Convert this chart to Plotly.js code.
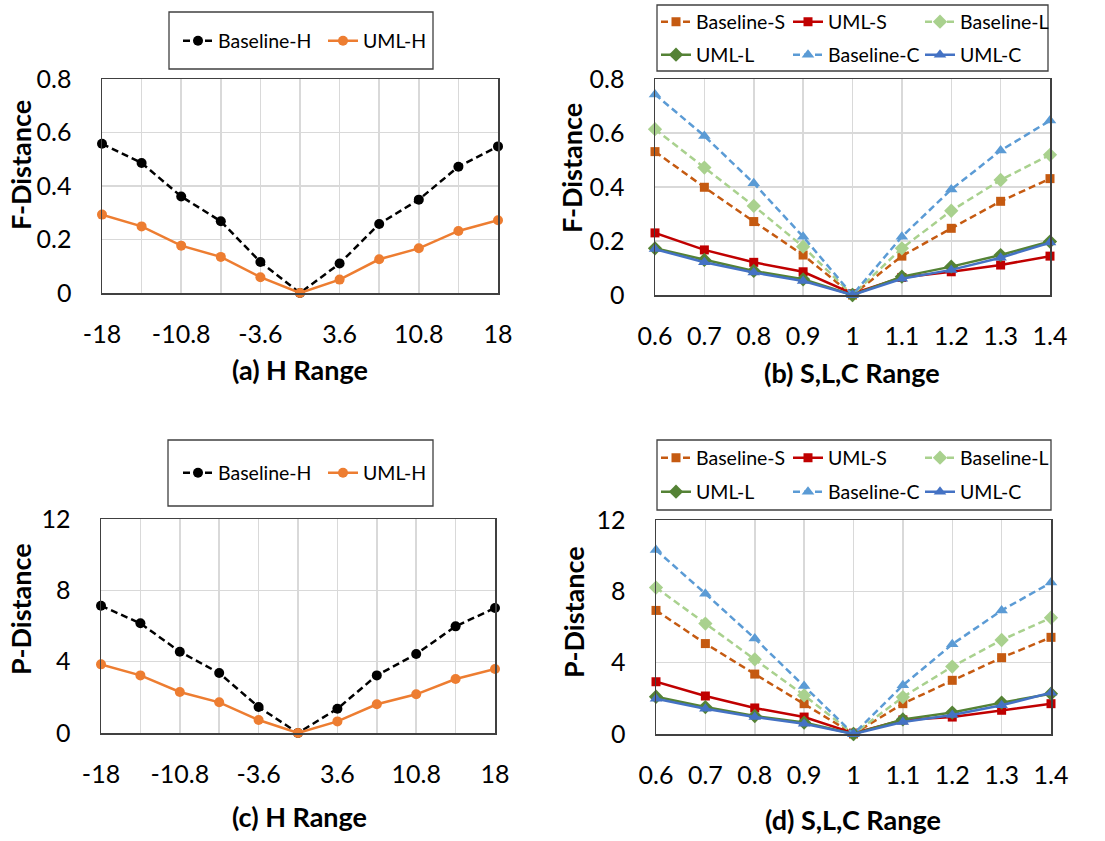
<!DOCTYPE html>
<html>
<head>
<meta charset="utf-8">
<script src="https://cdn.plot.ly/plotly-3.0.1.min.js"></script>
<style>html,body{margin:0;padding:0;background:#fff;}#chart{width:1105px;height:841px;}</style>
</head>
<body>
<div id="chart"></div>
<script>
// ---- categories / tick labels ----
const hCats = ['-18','-14.4','-10.8','-7.2','-3.6','0','3.6','7.2','10.8','14.4','18'];
const slcCats = ['0.6','0.7','0.8','0.9','1','1.1','1.2','1.3','1.4'];
const fTicks = [0, 0.2, 0.4, 0.6, 0.8];
const pTicks = [0, 4, 8, 12];

// ---- (a) F-Distance vs H ----
const fBaseH = [0.558,0.486,0.361,0.268,0.116,0,0.110,0.258,0.349,0.472,0.548];
const fUmlH  = [0.293,0.249,0.177,0.135,0.059,0,0.050,0.126,0.167,0.232,0.272];
// ---- (c) P-Distance vs H ----
const pBaseH = [7.14,6.15,4.56,3.36,1.46,0,1.36,3.23,4.43,5.98,7.01];
const pUmlH  = [3.85,3.23,2.30,1.72,0.73,0,0.65,1.61,2.17,3.03,3.59];
// ---- (b) F-Distance vs S,L,C ----
const fBaseS = [0.531,0.399,0.272,0.148,0,0.144,0.247,0.347,0.431];
const fUmlS  = [0.230,0.167,0.121,0.086,0.005,0.065,0.086,0.111,0.144];
const fBaseL = [0.614,0.472,0.330,0.179,0,0.173,0.312,0.426,0.519];
const fUmlL  = [0.173,0.130,0.089,0.058,0,0.068,0.105,0.148,0.198];
const fBaseC = [0.743,0.589,0.414,0.216,0,0.216,0.391,0.535,0.646];
const fUmlC  = [0.170,0.121,0.083,0.052,0,0.060,0.093,0.138,0.194];
// ---- (d) P-Distance vs S,L,C ----
const pBaseS = [6.93,5.07,3.36,1.70,0,1.70,3.01,4.28,5.42];
const pUmlS  = [2.93,2.13,1.46,0.95,0.05,0.79,0.95,1.33,1.70];
const pBaseL = [8.21,6.19,4.19,2.17,0,2.07,3.78,5.27,6.52];
const pUmlL  = [2.09,1.51,1.01,0.64,0,0.82,1.20,1.76,2.26];
const pBaseC = [10.32,7.87,5.36,2.69,0,2.73,5.03,6.93,8.49];
const pUmlC  = [1.98,1.42,0.95,0.58,0,0.67,1.07,1.61,2.32];

const W = 1105, H = 841;
const FONT = 'Lato, "Open Sans", sans-serif';
const px = v => v / W;
const py = v => 1 - v / H;

function line(name, x, y, color, dash, symbol, size, xa, ya, legend) {
  return {
    type: 'scatter', mode: 'lines+markers', name: name, x: x, y: y,
    xaxis: xa, yaxis: ya, legend: legend, cliponaxis: false,
    line: {color: color, width: 2.5, dash: dash ? '7px,4px' : 'solid'},
    marker: {color: color, symbol: symbol, size: size}
  };
}

const cS = '#C55A11', cSu = '#C00000', cL = '#A9D18E', cLu = '#548235', cC = '#5B9BD5', cCu = '#4472C4';

const traces = [
  line('Baseline-H', hCats, fBaseH, '#000000', true, 'circle', 10, 'x', 'y', 'legend'),
  line('UML-H', hCats, fUmlH, '#ED7D31', false, 'circle', 10, 'x', 'y', 'legend'),

  line('Baseline-S', slcCats, fBaseS, cS, true, 'square', 9, 'x2', 'y2', 'legend2'),
  line('UML-S', slcCats, fUmlS, cSu, false, 'square', 9, 'x2', 'y2', 'legend2'),
  line('Baseline-L', slcCats, fBaseL, cL, true, 'diamond', 11, 'x2', 'y2', 'legend2'),
  line('UML-L', slcCats, fUmlL, cLu, false, 'diamond', 11, 'x2', 'y2', 'legend3'),
  line('Baseline-C', slcCats, fBaseC, cC, true, 'triangle-up', 11, 'x2', 'y2', 'legend3'),
  line('UML-C', slcCats, fUmlC, cCu, false, 'triangle-up', 11, 'x2', 'y2', 'legend3'),

  line('Baseline-H', hCats, pBaseH, '#000000', true, 'circle', 10, 'x3', 'y3', 'legend4'),
  line('UML-H', hCats, pUmlH, '#ED7D31', false, 'circle', 10, 'x3', 'y3', 'legend4'),

  line('Baseline-S', slcCats, pBaseS, cS, true, 'square', 9, 'x4', 'y4', 'legend5'),
  line('UML-S', slcCats, pUmlS, cSu, false, 'square', 9, 'x4', 'y4', 'legend5'),
  line('Baseline-L', slcCats, pBaseL, cL, true, 'diamond', 11, 'x4', 'y4', 'legend5'),
  line('UML-L', slcCats, pUmlL, cLu, false, 'diamond', 11, 'x4', 'y4', 'legend6'),
  line('Baseline-C', slcCats, pBaseC, cC, true, 'triangle-up', 11, 'x4', 'y4', 'legend6'),
  line('UML-C', slcCats, pUmlC, cCu, false, 'triangle-up', 11, 'x4', 'y4', 'legend6')
];

function xaxis(x0, x1, cats, everyOther, anchor) {
  return {
    domain: [px(x0), px(x1)], anchor: anchor, type: 'category',
    range: [0, cats.length - 1],
    tickvals: cats, ticktext: cats.map((c, i) => (everyOther && i % 2) ? '' : c),
    showgrid: true, gridcolor: '#D9D9D9', gridwidth: 1.5,
    showline: true, linecolor: '#404040', linewidth: 1.5, mirror: true,
    ticks: '', ticklabelstandoff: 18,
    tickfont: {family: FONT, size: 25, color: '#000'}, zeroline: false, fixedrange: true
  };
}
function yaxis(y0, y1, ticks, anchor) {
  return {
    domain: [py(y1), py(y0)], anchor: anchor,
    range: [ticks[0], ticks[ticks.length - 1]], tickvals: ticks,
    showgrid: true, gridcolor: '#D9D9D9', gridwidth: 1.5,
    showline: true, linecolor: '#404040', linewidth: 1.5, mirror: true,
    ticks: '', ticklabelstandoff: 24,
    tickfont: {family: FONT, size: 25, color: '#000'}, zeroline: false, fixedrange: true
  };
}
function leg(x, y, entry) {
  return {
    x: px(x), y: py(y), xanchor: 'left', yanchor: 'middle', orientation: 'h',
    bgcolor: 'rgba(0,0,0,0)', borderwidth: 0, traceorder: 'normal',
    font: {family: FONT, size: 19.5, color: '#000'},
    entrywidth: entry, itemwidth: 30, tracegroupgap: 0
  };
}
function box(x0, y0, x1, y1) {
  return {type: 'rect', xref: 'paper', yref: 'paper', x0: px(x0), x1: px(x1), y0: py(y0), y1: py(y1),
          line: {color: '#404040', width: 1.3}, fillcolor: 'rgba(0,0,0,0)'};
}
function title(text, x, y, angle) {
  return {text: '<b>' + text + '</b>', xref: 'paper', yref: 'paper', x: px(x), y: py(y),
          xanchor: 'center', yanchor: 'middle', showarrow: false, textangle: angle || 0,
          font: {family: FONT, size: 27, color: '#000'}};
}

const layout = {
  width: W, height: H, margin: {l: 0, r: 0, t: 0, b: 0, autoexpand: false},
  paper_bgcolor: '#fff', plot_bgcolor: '#fff', showlegend: true,
  xaxis: xaxis(102, 498, hCats, true, 'y'),
  yaxis: yaxis(79, 293, fTicks, 'x'),
  xaxis2: xaxis(655, 1050, slcCats, false, 'y2'),
  yaxis2: yaxis(79, 295, fTicks, 'x2'),
  xaxis3: xaxis(101, 495, hCats, true, 'y3'),
  yaxis3: yaxis(519, 733, pTicks, 'x3'),
  xaxis4: xaxis(656, 1051, slcCats, false, 'y4'),
  yaxis4: yaxis(520, 734, pTicks, 'x4'),
  legend: leg(178, 41, 100),
  legend2: leg(656, 22, 87),
  legend3: leg(656, 55, 87),
  legend4: leg(178, 473, 100),
  legend5: leg(656, 458, 87),
  legend6: leg(656, 492, 87),
  shapes: [box(169, 12, 433, 69), box(657, 5, 1048, 71), box(168, 440, 433, 506), box(657, 440, 1051, 510)],
  annotations: [
    title('(a) H Range', 300, 370), title('(b) S,L,C Range', 852, 372),
    title('(c) H Range', 299, 816), title('(d) S,L,C Range', 853, 819),
    title('F-Distance', 20, 165, -90), title('F-Distance', 572, 168, -90),
    title('P-Distance', 20, 609, -90), title('P-Distance', 573, 612, -90)
  ]
};

Plotly.newPlot('chart', traces, layout, {displayModeBar: false, staticPlot: true});
</script>
</body>
</html>
